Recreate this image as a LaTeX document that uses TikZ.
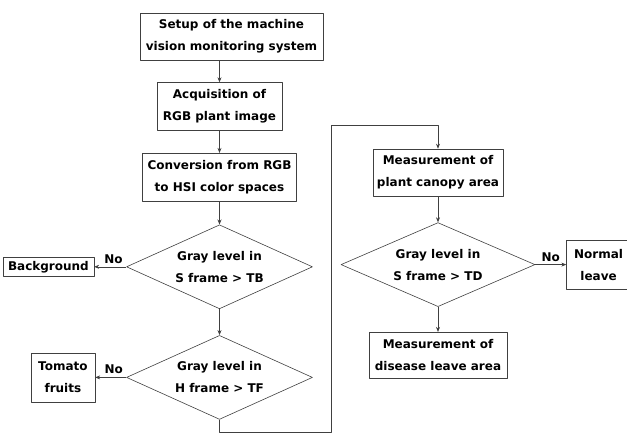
\documentclass[tikz,border=0pt]{standalone}
\usepackage{fontspec}
\setmainfont{DejaVu Sans}
\usetikzlibrary{positioning,shapes.geometric,arrows.meta}

\begin{document}
\begin{tikzpicture}[%
    x=1pt, y=1pt,
    >={Stealth[length=5pt,width=4pt]},
    line width=0.6pt,
    line join=round,
    font=\bfseries\fontsize{12}{22}\selectfont,
    every edge/.style={draw=black!75, ->},
    stepbox/.style={%
      rectangle,
      draw=black!75,
      inner sep=2pt,
      minimum height=48pt,
      align=center
    },
    testbox/.style={%
      diamond,
      draw=black!75,
      aspect=2.2,
      inner sep=0pt,
      minimum width=186pt,
      minimum height=84pt,
      align=center
    },
    nolabel/.style={%
      above,
      inner sep=3pt,
      text=black,
      font=\bfseries\fontsize{12}{14}\selectfont
    }
  ]
    \useasboundingbox (0,0) rectangle (627,-432);
    \clip (0,0) rectangle (627,-432);

    \node[stepbox, minimum width=183pt, minimum height=47pt] (setup) at (231.5,-36.5)
      {Setup of the machine\\vision monitoring system};
    \node[stepbox, minimum width=125pt] (acq) [below=22pt of setup, xshift=-12pt]
      {Acquisition of\\RGB plant image};
    \node[stepbox, minimum width=154pt] (conv) [below=22pt of acq]
      {Conversion from RGB\\to HSI color spaces};
    \node[testbox] (sfb) [below=23pt of conv] {Gray level in\\S frame > TB};
    \node[testbox] (hft) [below=26pt of sfb] {Gray level in\\H frame > TF};
    \node[stepbox, minimum width=91pt, minimum height=19pt] (bg) [left=32pt of sfb]
      {Background};
    \node[stepbox, minimum width=64pt, minimum height=49pt] (tomato) [left=31pt of hft]
      {Tomato\\fruits};

    \coordinate (turn) at (331,-125);
    \node[stepbox, minimum width=130pt, minimum height=47pt] (canopy) at (438,-172.5)
      {Measurement of\\plant canopy area};
    \node[testbox, minimum width=194pt] (sfd) [below=26pt of canopy]
      {Gray level in\\S frame > TD};
    \node[stepbox, minimum width=138pt, minimum height=46pt] (disease) [below=25pt of sfd]
      {Measurement of\\disease leave area};
    \node[stepbox, minimum width=64pt, minimum height=49pt] (normal) [right=31pt of sfd]
      {Normal\\leave};

    \path (setup.south -| acq) edge (acq)
          (acq) edge (conv)
          (conv) edge (sfb)
          (sfb) edge (hft)
          (sfb.west) edge node[nolabel, pos=0.4] {No} (bg)
          (hft.west) edge node[nolabel, pos=0.4] {No} (tomato)
          (canopy) edge (sfd)
          (sfd) edge (disease)
          (sfd.east) edge node[nolabel] {No} (normal);
    \draw[->, black!75] (hft.south) -- ++(0,-13) -| (turn) -| (canopy.north);
\end{tikzpicture}
\end{document}
